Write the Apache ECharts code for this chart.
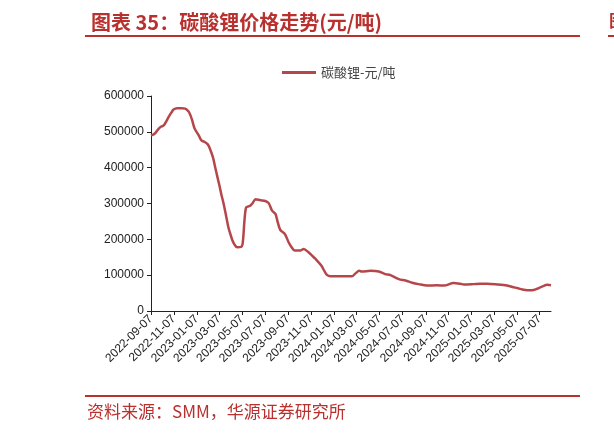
<!DOCTYPE html>
<html lang="zh">
<head>
<meta charset="UTF-8">
<title>碳酸锂价格走势</title>
<script src="https://cdn.jsdelivr.net/npm/echarts@6/dist/echarts.min.js"></script>
<style>
html, body { margin: 0; padding: 0; background: #fff; }
#chart { width: 614px; height: 435px; }
</style>
</head>
<body>
<div id="chart"></div>
<script>
// 碳酸锂价格 (元/吨)
const dates = [
'2022-09-07','2022-09-14','2022-09-19','2022-09-26','2022-10-03','2022-10-11','2022-10-18','2022-10-24',
'2022-11-01','2022-11-06','2022-11-15','2022-11-28','2022-12-07','2022-12-16','2022-12-21','2022-12-25',
'2023-01-01','2023-01-12','2023-01-19','2023-01-29','2023-02-05','2023-02-10','2023-02-19','2023-02-25',
'2023-03-02','2023-03-08','2023-03-13','2023-03-19','2023-03-24','2023-04-01','2023-04-07','2023-04-12',
'2023-04-18','2023-04-24','2023-05-05','2023-05-09','2023-05-14','2023-05-18','2023-05-24','2023-05-29',
'2023-06-05','2023-06-12','2023-06-25','2023-07-08','2023-07-17','2023-07-26','2023-08-04','2023-08-10',
'2023-08-17','2023-08-29','2023-09-08','2023-09-16','2023-09-24','2023-10-09','2023-10-18','2023-10-31',
'2023-11-10','2023-11-18','2023-12-04','2023-12-12','2023-12-19','2023-12-28','2024-02-24','2024-03-04',
'2024-03-14','2024-03-21','2024-04-13','2024-05-05','2024-05-22','2024-06-05','2024-06-27','2024-07-15',
'2024-08-02','2024-08-19','2024-09-10','2024-10-07','2024-10-25','2024-11-20','2024-12-08','2024-12-17',
'2025-01-12','2025-01-30','2025-02-17','2025-03-16','2025-04-11','2025-04-30','2025-05-08','2025-05-22',
'2025-06-04','2025-06-16','2025-06-30','2025-07-13','2025-07-27','2025-08-06'
];
const prices = [
490000,493000,497000,507000,514000,518000,530000,542000,
555000,562000,566000,566000,565000,557000,546000,534000,
509000,490000,476000,471000,465000,455000,428000,400000,
377000,350000,326000,300000,275000,233000,212000,196000,
184000,178000,179000,190000,257000,289000,292000,294000,
302000,312000,309000,307000,301000,280000,271000,248000,
226000,215000,192000,178000,169000,169000,173000,164000,
154000,146000,127000,112000,101000,97000,97000,105000,
112000,110000,112000,110000,103000,100000,89000,85000,
79000,75000,71000,72000,71000,78000,76000,74000,
75000,76000,76000,74000,71000,66000,64000,60000,
58000,58000,62000,68000,73000,72000
];
const tickDates = [
'2022-09-07','2022-11-07','2023-01-07','2023-03-07','2023-05-07','2023-07-07',
'2023-09-07','2023-11-07','2024-01-07','2024-03-07','2024-05-07','2024-07-07',
'2024-09-07','2024-11-07','2025-01-07','2025-03-07','2025-05-07','2025-07-07'
];

const RED = '#B8312F';
const font = '"Noto Sans CJK SC", "Liberation Sans", sans-serif';
const numFont = '"Liberation Sans", Arial, sans-serif';
const toTime = d => Date.UTC(+d.slice(0, 4), +d.slice(5, 7) - 1, +d.slice(8, 10));
const tickTimes = tickDates.map(toTime);
const pad = n => (n < 10 ? '0' : '') + n;
const fmtDate = v => {
const t = new Date(v);
return t.getUTCFullYear() + '-' + pad(t.getUTCMonth() + 1) + '-' + pad(t.getUTCDate());
};

const chart = echarts.init(document.getElementById('chart'));

chart.setOption({
animation: false,
textStyle: { fontFamily: font },
title: {
text: '图表 35：碳酸锂价格走势(元/吨)',
left: 86,
top: 7,
textStyle: { color: RED, fontSize: 20, fontWeight: 'bold', fontFamily: font }
},
legend: {
data: ['碳酸锂-元/吨'],
left: 277,
top: 61,
icon: 'rect',
itemWidth: 34,
itemHeight: 3,
itemGap: 4,
textStyle: { fontSize: 13, color: '#444', fontFamily: font }
},
graphic: [
{ type: 'line', shape: { x1: 85, y1: 36, x2: 580, y2: 36 }, style: { stroke: RED, lineWidth: 2 } },
{ type: 'line', shape: { x1: 608, y1: 36, x2: 614, y2: 36 }, style: { stroke: RED, lineWidth: 2 } },
{ type: 'text', left: 609, top: 12, style: { text: '图表', fill: RED, font: 'bold 17px ' + font } },
{ type: 'line', shape: { x1: 85, y1: 396, x2: 580, y2: 396 }, style: { stroke: RED, lineWidth: 2 } },
{ type: 'text', left: 87, top: 403, style: { text: '资料来源：SMM，华源证券研究所', fill: RED, font: '17px ' + font } }
],
grid: {
left: 151,
right: 63,
top: 96,
bottom: 124
},
xAxis: {
type: 'value',
min: toTime(dates[0]),
max: toTime(dates[dates.length - 1]),
axisLine: { lineStyle: { color: '#222', width: 1 } },
axisTick: { show: true, length: 4, customValues: tickTimes, lineStyle: { color: '#222' } },
splitLine: { show: false },
axisLabel: {
customValues: tickTimes,
rotate: 45,
fontSize: 12,
fontFamily: numFont,
color: '#222',
margin: 6,
formatter: fmtDate
}
},
yAxis: {
type: 'value',
min: 0,
max: 600000,
interval: 100000,
axisLine: { show: true, lineStyle: { color: '#222', width: 1 } },
axisTick: { show: true, length: 4, lineStyle: { color: '#222' } },
splitLine: { show: false },
axisLabel: { fontSize: 12, fontFamily: numFont, color: '#222', margin: 7, formatter: v => String(v) }
},
series: [{
name: '碳酸锂-元/吨',
type: 'line',
data: dates.map((d, i) => [toTime(d), prices[i]]),
symbol: 'none',
smooth: 0.3,
lineStyle: { color: '#B5474B', width: 2.5 },
itemStyle: { color: '#B5474B' }
}]
});
</script>
</body>
</html>
